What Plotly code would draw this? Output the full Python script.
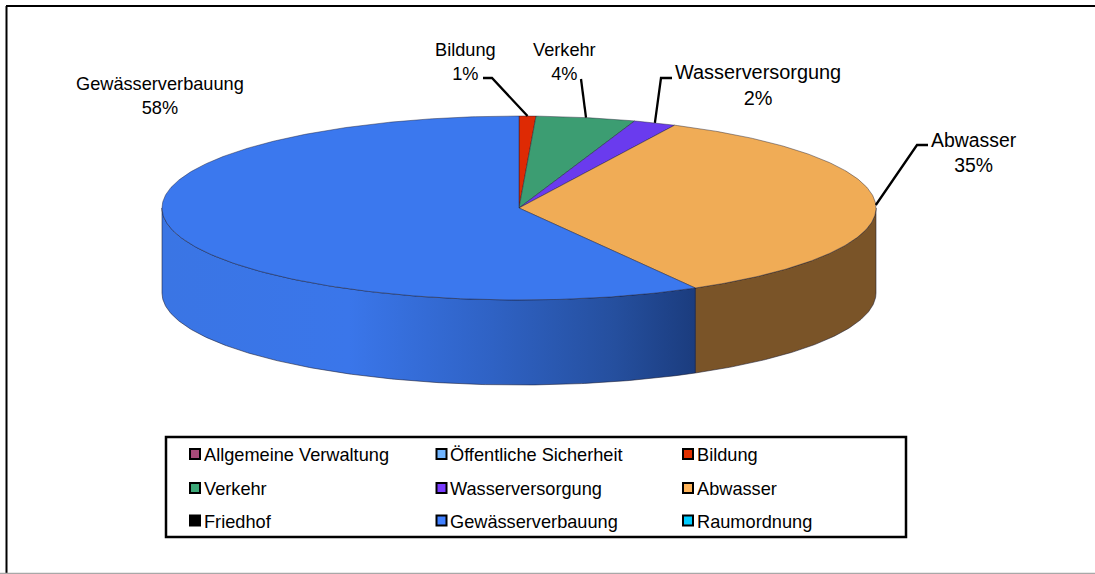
import math
import plotly.graph_objects as go

# ---- data ----
slice_names = ["Bildung", "Verkehr", "Wasserversorgung", "Abwasser", "Gewässerverbauung"]
slice_values = [0.76, 4.49, 1.93, 34.6, 58.22]
slice_labels = ["1%", "4%", "2%", "35%", "58%"]
slice_colors = ["#DE2A04", "#3C9D72", "#6A3BEE", "#F0AC56", "#3B78EE"]
side_colors = {"Abwasser": "#7A5428"}
legend_names = ["Allgemeine Verwaltung", "Öffentliche Sicherheit", "Bildung",
                "Verkehr", "Wasserversorgung", "Abwasser",
                "Friedhof", "Gewässerverbauung", "Raumordnung"]
legend_colors = ["#A84B78", "#6FB4FF", "#E03000",
                 "#3CA878", "#7A3CFF", "#FFB45A",
                 "#000000", "#4080FF", "#00CCFF"]

# ---- geometry of the drawing ----
W, H = 1095, 574
CX, CY, RX, RY, DEPTH = 519, 208, 357, 92, 85
FONT = "Liberation Sans, Arial, sans-serif"
TXT = 18.2


def pt(theta, drop=0):
    t = math.radians(theta)
    return CX + RX * math.sin(t), CY - RY * math.cos(t) + drop


def arc(a, b, drop=0, step=0.5):
    n = max(2, int(abs(b - a) / step))
    return [pt(a + (b - a) * i / n, drop) for i in range(n + 1)]


total = sum(slice_values)
spans = {}
acc = 0.0
for name, v in zip(slice_names, slice_values):
    spans[name] = (acc / total * 360, (acc + v) / total * 360)
    acc += v

fig = go.Figure()
EDGE = "rgba(25,25,45,0.55)"

# side walls
a0 = spans["Abwasser"]
wall = arc(max(a0[0], 90), a0[1]) + arc(a0[1], max(a0[0], 90), DEPTH)
fig.add_trace(go.Scatter(x=[p[0] for p in wall] + [wall[0][0]], y=[p[1] for p in wall] + [wall[0][1]],
                         mode="lines", fill="toself", fillcolor=side_colors["Abwasser"],
                         line=dict(color=EDGE, width=1), hoverinfo="skip", showlegend=False))
g0 = spans["Gewässerverbauung"]
wall = arc(g0[0], 270) + arc(270, g0[0], DEPTH)
fig.add_trace(go.Scatter(x=[p[0] for p in wall] + [wall[0][0]], y=[p[1] for p in wall] + [wall[0][1]],
                         mode="lines", fill="toself",
                         fillgradient=dict(type="horizontal",
                                           colorscale=[[0, "#3A75E4"], [0.35, "#3A76EA"], [0.62, "#2F62C4"],
                                                       [0.85, "#254F9E"], [1, "#1B3C7E"]]),
                         line=dict(color=EDGE, width=1), hoverinfo="skip", showlegend=False))

# top faces
for name, col in zip(slice_names, slice_colors):
    a, b = spans[name]
    poly = [(CX, CY)] + arc(a, b) + [(CX, CY)]
    fig.add_trace(go.Scatter(x=[p[0] for p in poly], y=[p[1] for p in poly], mode="lines",
                             fill="toself", fillcolor=col, line=dict(color=EDGE, width=0.8),
                             name=name, hoverinfo="name", showlegend=False))

# leader lines, anchored on the middle of each slice's rim
leaders = {"Bildung": [(483, 78), (492, 78)], "Verkehr": [(581, 79)],
           "Wasserversorgung": [(672, 78), (661, 78)], "Abwasser": [(928, 145), (917, 145)]}
for name, pts in leaders.items():
    a, b = spans[name]
    end = pt((a + b) / 2)
    line = pts + [end]
    fig.add_trace(go.Scatter(x=[p[0] for p in line], y=[p[1] for p in line], mode="lines",
                             line=dict(color="black", width=2.3), hoverinfo="skip", showlegend=False))

# data labels
label_pos = {"Bildung": (465, 62, TXT), "Verkehr": (564, 62, TXT), "Wasserversorgung": (758, 85, 19.9),
             "Abwasser": (973.5, 152, 19.4), "Gewässerverbauung": (160, 96, TXT)}
for name, lab in zip(slice_names, slice_labels):
    x, y, size = label_pos[name]
    fig.add_annotation(x=x, y=y, text=f"{name}<br>{lab}", showarrow=False, xanchor="center", yanchor="middle",
                       font=dict(family=FONT, size=size, color="black"))

# legend
LEG_X = [195, 441.5, 688]
LEG_Y = [454, 488, 520.5]
LEG_TEXT_X = [201.5, 447.5, 694.5]
LEG_TEXT_Y = [455, 489, 522]
for i, (name, col) in enumerate(zip(legend_names, legend_colors)):
    fig.add_trace(go.Scatter(x=[LEG_X[i % 3]], y=[LEG_Y[i // 3]], mode="markers", name=name,
                             marker=dict(symbol="square", size=10, color=col, line=dict(color="black", width=2)),
                             showlegend=False))
    fig.add_annotation(x=LEG_TEXT_X[i % 3], y=LEG_TEXT_Y[i // 3], text=name, showarrow=False,
                       xanchor="left", yanchor="middle", font=dict(family=FONT, size=TXT, color="black"))

shapes = [
    dict(type="rect", x0=166, x1=906, y0=437, y1=537, line=dict(color="black", width=2.5), layer="below"),
    dict(type="line", x0=6.5, x1=6.5, y0=6, y1=574, line=dict(color="black", width=2)),
    dict(type="line", x0=6, x1=1095, y0=6, y1=6, line=dict(color="black", width=2)),
    dict(type="line", x0=0, x1=1095, y0=573.5, y1=573.5, line=dict(color="#A8A8A8", width=1.5)),
]
fig.update_layout(
    width=W, height=H, margin=dict(l=0, r=0, t=0, b=0), paper_bgcolor="white", plot_bgcolor="white",
    xaxis=dict(range=[0, W], visible=False, fixedrange=True),
    yaxis=dict(range=[H, 0], visible=False, fixedrange=True),
    shapes=shapes, showlegend=False,
)
fig.write_html("out.html", config=dict(displayModeBar=False),
               post_script="document.body.style.margin='0';document.body.style.overflow='hidden';")
